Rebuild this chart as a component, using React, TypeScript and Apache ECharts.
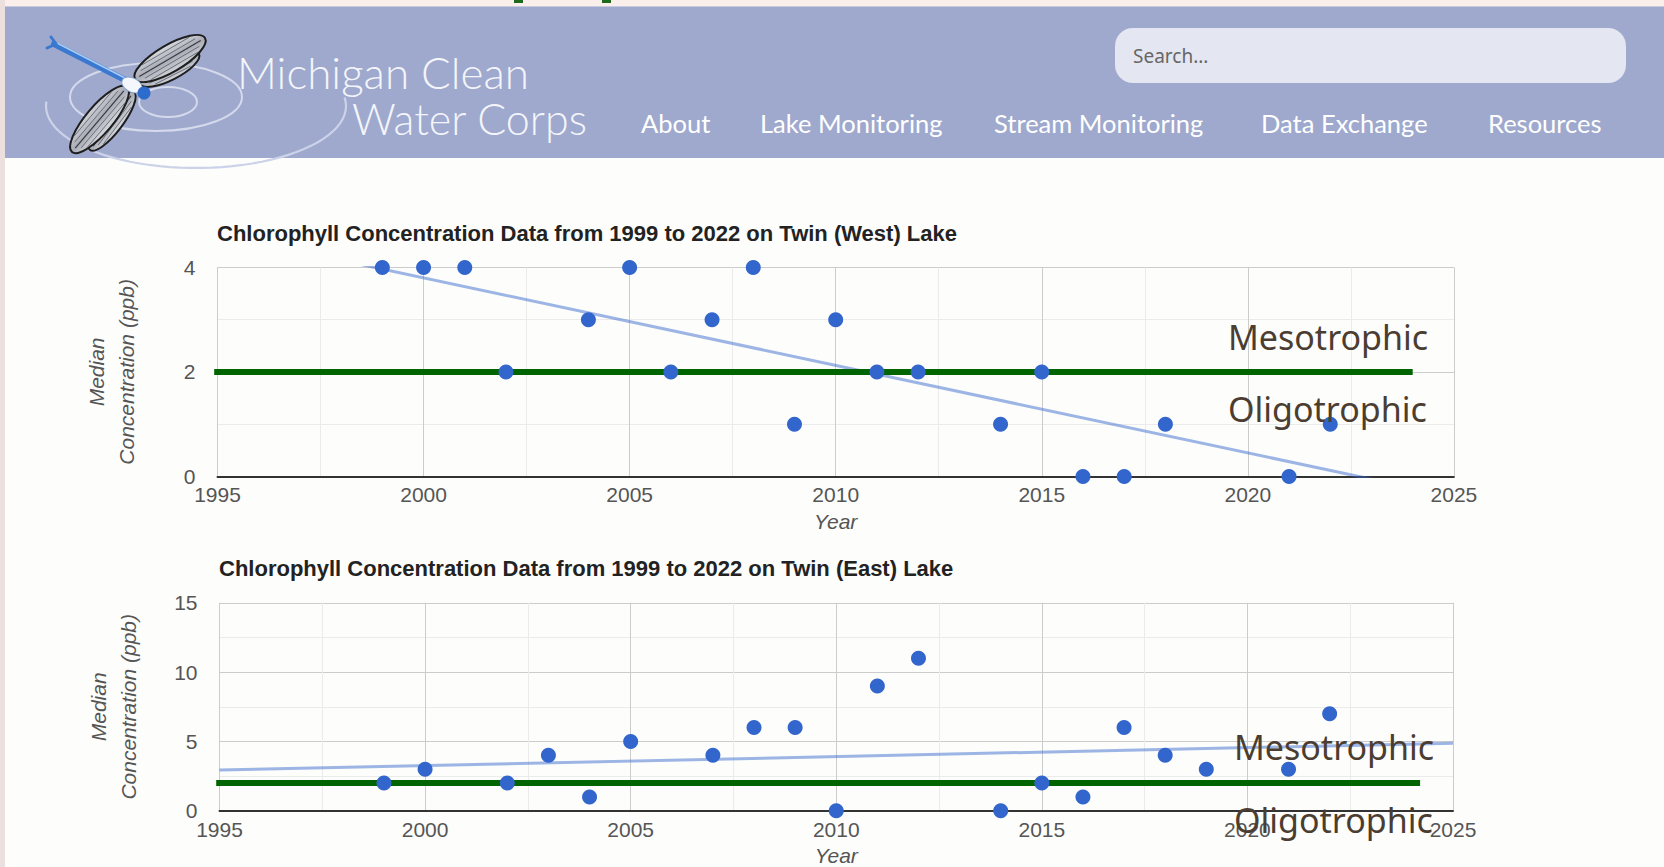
import React, { useEffect, useRef } from "react";
import * as echarts from "echarts";

// ---------- data ----------
const westYears = [1999, 2000, 2001, 2002, 2004, 2005, 2006, 2007, 2008, 2009, 2010, 2011, 2012, 2014, 2015, 2016, 2017, 2018, 2021, 2022];
const westValues = [4, 4, 4, 2, 3, 4, 2, 3, 4, 1, 3, 2, 2, 1, 2, 0, 0, 1, 0, 1];
const eastYears = [1999, 2000, 2002, 2003, 2004, 2005, 2007, 2008, 2009, 2010, 2011, 2012, 2014, 2015, 2016, 2017, 2018, 2019, 2021, 2022];
const eastValues = [2, 3, 2, 4, 1, 5, 4, 6, 6, 0, 9, 11, 0, 2, 1, 6, 4, 3, 3, 7];
const xMin = 1995;
const xMax = 2025;
const xInterval = 5;
const westYMax = 4;
const westYInterval = 2;
const eastYMax = 15;
const eastYInterval = 5;
const thresholdValue = 2;
const thresholdStart = 1994.92;
const thresholdEndWest = 2024;
const thresholdEndEast = 2024.2;
const titleWest = "Chlorophyll Concentration Data from 1999 to 2022 on Twin (West) Lake";
const titleEast = "Chlorophyll Concentration Data from 1999 to 2022 on Twin (East) Lake";
const yName = "Median\nConcentration (ppb)";
const xName = "Year";
const navItems = ["About", "Lake Monitoring", "Stream Monitoring", "Data Exchange", "Resources"];
const navX = [641, 760, 994, 1261, 1488];
const zoneLabels = ["Mesotrophic", "Oligotrophic"];

function linreg(xs: number[], ys: number[]) {
  const n = xs.length;
  const mx = xs.reduce((a, b) => a + b, 0) / n;
  const my = ys.reduce((a, b) => a + b, 0) / n;
  let sxy = 0, sxx = 0;
  for (let i = 0; i < n; i++) {
    sxy += (xs[i] - mx) * (ys[i] - my);
    sxx += (xs[i] - mx) * (xs[i] - mx);
  }
  const slope = sxy / sxx;
  return (x: number) => my + slope * (x - mx);
}

const FONT = "'Liberation Sans', Arial, sans-serif";

function wing(x1: number, y1: number, x2: number, y2: number, w: number) {
  const cx = (x1 + x2) / 2, cy = (y1 + y2) / 2;
  const len = Math.hypot(x2 - x1, y2 - y1);
  const rot = -Math.atan2(y2 - y1, x2 - x1);
  const els: any[] = [
    {
      type: "ellipse", x: cx, y: cy, rotation: rot, silent: true,
      shape: { cx: 0, cy: 0, rx: len / 2, ry: w / 2 },
      style: {
        fill: new echarts.graphic.LinearGradient(0, 0, 0, 1, [
          { offset: 0, color: "#d9dbe1" },
          { offset: 0.5, color: "#a9acb6" },
          { offset: 1, color: "#d0d2d9" },
        ]),
        stroke: "#1e1e1e", lineWidth: 2,
      },
    },
  ];
  for (let k = -2; k <= 2; k++) {
    els.push({
      type: "line", x: cx, y: cy, rotation: rot, silent: true,
      shape: { x1: -len / 2 + 5 + Math.abs(k) * 4, y1: k * w * 0.16, x2: len / 2 - 5 - Math.abs(k) * 4, y2: k * w * 0.16 },
      style: { stroke: k === 0 ? "#3a3b40" : "#62646b", lineWidth: k === 0 ? 1.2 : 0.8 },
    });
  }
  return els;
}

function outerSwirl() {
  const pts: number[][] = [];
  for (let a = -8; a <= 186; a += 4) {
    const r = (a * Math.PI) / 180;
    pts.push([196 + 150 * Math.cos(r), 106 + 62 * Math.sin(r)]);
  }
  return pts;
}

function buildOption() {
  const westTrend = linreg(westYears, westValues);
  const eastTrend = linreg(eastYears, eastValues);

  const xAxisCfg = (gridIndex: number, nameGap: number) => ({
    type: "value",
    gridIndex,
    min: xMin,
    max: xMax,
    interval: xInterval,
    name: xName,
    nameLocation: "middle",
    nameGap,
    nameTextStyle: { fontStyle: "italic", fontSize: 21, color: "#555", fontFamily: FONT },
    axisLine: { show: true, onZero: false, lineStyle: { color: "#333", width: 2 } },
    axisTick: { show: false },
    axisLabel: {
      fontSize: 21, color: "#555", margin: 8, fontFamily: FONT, showMinLabel: true, showMaxLabel: true,
      formatter: (v: number) => String(v),
    },
    splitLine: { show: true, lineStyle: { color: "#cccccc", width: 1 } },
    minorTick: { show: false, splitNumber: 2 },
    minorSplitLine: { show: true, lineStyle: { color: "#ebebeb", width: 1 } },
  });

  const yAxisCfg = (gridIndex: number, max: number, interval: number) => ({
    type: "value",
    gridIndex,
    min: 0,
    max,
    interval,
    name: yName,
    nameLocation: "middle",
    nameRotate: 90,
    nameGap: 76,
    nameTextStyle: { fontStyle: "italic", fontSize: 21, color: "#555", fontFamily: FONT, lineHeight: 30 },
    axisLine: { show: false },
    axisTick: { show: false },
    axisLabel: { fontSize: 21, color: "#555", margin: 22, fontFamily: FONT },
    splitLine: { show: true, lineStyle: { color: "#cccccc", width: 1 } },
    minorTick: { show: false, splitNumber: 2 },
    minorSplitLine: { show: true, lineStyle: { color: "#ebebeb", width: 1 } },
  });

  const scatter = (idx: number, xs: number[], ys: number[]) => ({
    type: "scatter",
    xAxisIndex: idx,
    yAxisIndex: idx,
    data: xs.map((x, i) => [x, ys[i]]),
    symbolSize: 15,
    itemStyle: { color: "#3366cc", opacity: 1 },
    clip: false,
    z: 6,
  });

  const trend = (idx: number, f: (x: number) => number) => ({
    type: "line",
    xAxisIndex: idx,
    yAxisIndex: idx,
    data: [[xMin, f(xMin)], [xMax, f(xMax)]],
    symbol: "none",
    lineStyle: { color: "#3366cc", opacity: 0.48, width: 3 },
    clip: true,
    z: 3,
  });

  const threshold = (idx: number, end: number) => ({
    type: "line",
    xAxisIndex: idx,
    yAxisIndex: idx,
    data: [[thresholdStart, thresholdValue], [end, thresholdValue]],
    symbol: "none",
    lineStyle: { color: "#006400", width: 6, cap: "butt" },
    clip: false,
    z: 4,
  });

  const zoneText = (text: string, x: number, y: number) => ({
    type: "text",
    x,
    y,
    z: 100,
    silent: true,
    style: {
      text,
      fill: "#4b3d31",
      font: "34px 'Noto Sans', 'Open Sans', sans-serif",
      verticalAlign: "middle",
      align: "left",
    },
  });

  const headerFont = "Lato, 'Noto Sans', sans-serif";

  const graphic: any[] = [
    { type: "rect", shape: { x: 0, y: 0, width: 1664, height: 6 }, style: { fill: "#fbefec" }, silent: true },
    { type: "rect", shape: { x: 0, y: 0, width: 5, height: 867 }, style: { fill: "#ebe0dd" }, silent: true },
    { type: "rect", shape: { x: 514, y: 0, width: 9, height: 3 }, style: { fill: "#1d6a1d" }, silent: true },
    { type: "rect", shape: { x: 602, y: 0, width: 9, height: 3 }, style: { fill: "#1d6a1d" }, silent: true },
    { type: "rect", shape: { x: 5, y: 6, width: 1659, height: 152 }, style: { fill: "#9ea9cd" }, silent: true },
    { type: "line", shape: { x1: 5, y1: 6.5, x2: 1664, y2: 6.5 }, style: { stroke: "#c6cbdf", lineWidth: 1 }, silent: true },
    // rings
    { type: "polyline", shape: { points: outerSwirl() }, style: { stroke: "#ccd2e8", lineWidth: 2.2, fill: "none" }, silent: true },
    { type: "ellipse", shape: { cx: 156, cy: 97, rx: 86, ry: 34 }, style: { stroke: "rgba(230,234,246,0.75)", lineWidth: 2, fill: "none" }, silent: true },
    { type: "ellipse", shape: { cx: 168, cy: 102, rx: 29, ry: 15 }, style: { stroke: "rgba(230,234,246,0.75)", lineWidth: 2, fill: "none" }, silent: true },
    // wings
    ...wing(134, 92, 90, 150, 22),
    ...wing(127, 87, 72, 152, 27),
    ...wing(140, 84, 199, 54, 22),
    ...wing(135, 79, 205, 38, 27),
    // body
    { type: "line", shape: { x1: 54, y1: 44, x2: 129, y2: 82 }, style: { stroke: "#3b78d0", lineWidth: 6, lineCap: "round" }, silent: true },
    { type: "line", shape: { x1: 57, y1: 43, x2: 127, y2: 79 }, style: { stroke: "#a9ccf3", lineWidth: 1.6, lineCap: "round" }, silent: true },
    { type: "line", shape: { x1: 47, y1: 48, x2: 56, y2: 44 }, style: { stroke: "#3b78d0", lineWidth: 3, lineCap: "round" }, silent: true },
    { type: "line", shape: { x1: 51, y1: 37, x2: 56, y2: 44 }, style: { stroke: "#3b78d0", lineWidth: 3, lineCap: "round" }, silent: true },
    { type: "ellipse", x: 132, y: 85, rotation: -0.5, shape: { cx: 0, cy: 0, rx: 11, ry: 7 }, style: { fill: "#f4f7fc", stroke: "#7f9fcf", lineWidth: 1 }, silent: true },
    { type: "circle", shape: { cx: 144, cy: 93, r: 6.5 }, style: { fill: "#2c6ccc" }, silent: true },
    // logo text
    { type: "text", x: 237, y: 72, style: { text: "Michigan Clean", fill: "#f4f5fa", font: `300 44px ${headerFont}`, verticalAlign: "middle" }, silent: true },
    { type: "text", x: 352, y: 118, style: { text: "Water Corps", fill: "#f4f5fa", font: `300 43px ${headerFont}`, verticalAlign: "middle" }, silent: true },
    // search
    { type: "rect", shape: { x: 1115, y: 28, width: 511, height: 55, r: 18 }, style: { fill: "#e4e6f1" }, silent: true },
    { type: "text", x: 1133, y: 56, style: { text: "Search...", fill: "#666", font: `19px 'Noto Sans', sans-serif`, verticalAlign: "middle" }, silent: true },
    // nav
    ...navItems.map((t, i) => ({
      type: "text", x: navX[i], y: 123, silent: true,
      style: { text: t, fill: "#ffffff", font: `25.5px ${headerFont}`, verticalAlign: "middle" },
    })),
    // zone labels
    zoneText(zoneLabels[0], 1228, 337),
    zoneText(zoneLabels[1], 1228, 409),
    zoneText(zoneLabels[0], 1234, 747),
    zoneText(zoneLabels[1], 1234, 820),
  ];

  return {
    animation: false,
    backgroundColor: "#fdfdfb",
    title: [
      { text: titleWest, left: 217, top: 222, padding: 0, textStyle: { fontFamily: FONT, fontSize: 22, fontWeight: "bold", color: "#222" } },
      { text: titleEast, left: 219, top: 557, padding: 0, textStyle: { fontFamily: FONT, fontSize: 22, fontWeight: "bold", color: "#222" } },
    ],
    grid: [
      { left: 217.5, top: 267.4, width: 1236.4, height: 209 },
      { left: 219.5, top: 602.8, width: 1233.5, height: 208 },
    ],
    xAxis: [xAxisCfg(0, 35), xAxisCfg(1, 34)],
    yAxis: [yAxisCfg(0, westYMax, westYInterval), yAxisCfg(1, eastYMax, eastYInterval)],
    series: [
      trend(0, westTrend),
      threshold(0, thresholdEndWest),
      scatter(0, westYears, westValues),
      trend(1, eastTrend),
      threshold(1, thresholdEndEast),
      scatter(1, eastYears, eastValues),
    ],
    graphic,
  };
}

export default function App() {
  const ref = useRef<HTMLDivElement>(null);
  useEffect(() => {
    if (!ref.current) return;
    const chart = echarts.init(ref.current, null, { renderer: "svg" });
    chart.setOption(buildOption() as any);
    return () => chart.dispose();
  }, []);
  return (
    <div
      ref={ref}
      style={{ position: "absolute", left: 0, top: 0, width: 1664, height: 867 }}
    />
  );
}
